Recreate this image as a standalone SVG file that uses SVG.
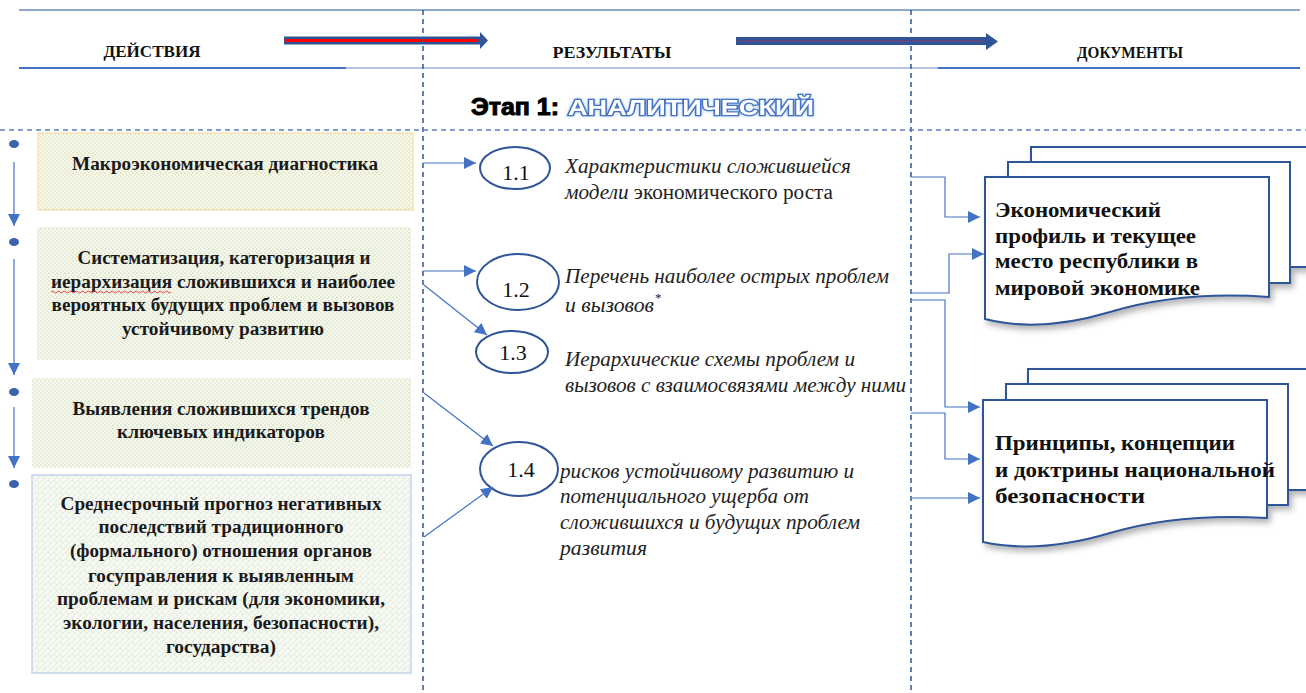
<svg xmlns="http://www.w3.org/2000/svg" width="1306" height="693" viewBox="0 0 1306 693">
<style>
.hdr{font-family:"Liberation Serif",serif;font-weight:bold;font-size:16px;fill:#111;text-anchor:middle}
.box{font-family:"Liberation Serif",serif;font-weight:bold;font-size:18px;fill:#1a1a1a;text-anchor:middle}
.it{font-family:"Liberation Serif",serif;font-style:italic;font-size:20px;fill:#222}
.up{font-style:normal}
.num{font-family:"Liberation Serif",serif;font-size:22px;fill:#111;text-anchor:middle}
.doc{font-family:"Liberation Serif",serif;font-weight:bold;font-size:22px;fill:#111}
.conn{fill:none;stroke:#4472c4;stroke-width:1.2}
.ell{fill:#fff;stroke:#2f5597;stroke-width:2}
.page{fill:#fff;stroke:#2f5597;stroke-width:2}
.vdash{stroke:#2f5597;stroke-width:1.5;stroke-dasharray:5 4;fill:none}
</style>
<defs>
<marker id="ahs" viewBox="0 0 10 10" refX="10" refY="5" markerWidth="12" markerHeight="12" markerUnits="userSpaceOnUse" orient="auto">
<path d="M0,0 L10,5 L0,10 Z" fill="#4472c4"/>
</marker>
<pattern id="dots" width="4" height="4" patternUnits="userSpaceOnUse">
<rect width="4" height="4" fill="#f7f9f1"/>
<rect width="2" height="2" fill="#e2ead2"/>
<rect x="2" y="2" width="2" height="2" fill="#e6edd8"/>
</pattern>
<pattern id="dotsY" width="4" height="4" patternUnits="userSpaceOnUse">
<rect width="4" height="4" fill="#fbf8ea"/>
<rect width="2" height="2" fill="#e4ead2"/>
<rect x="2" y="2" width="2" height="2" fill="#e8edd8"/>
</pattern>
<pattern id="weave" width="6" height="6" patternUnits="userSpaceOnUse">
<rect width="6" height="6" fill="#f6f8f2"/>
<path d="M0,6 L6,0 M0,0 L3,3" stroke="#e6ebe0" stroke-width="1"/>
</pattern>
<filter id="sh" x="-10%" y="-10%" width="130%" height="130%">
<feDropShadow dx="3" dy="4" stdDeviation="3" flood-color="#000" flood-opacity="0.3"/>
</filter>
<filter id="glow" x="-10%" y="-30%" width="120%" height="160%">
<feDropShadow dx="0" dy="0" stdDeviation="1.5" flood-color="#9dc3e6" flood-opacity="0.9"/>
</filter>
</defs>

<!-- header -->
<g id="header">
<line x1="19" y1="10" x2="1300" y2="10" stroke="#6a8cb8" stroke-width="1.5"/>
<line x1="19" y1="68" x2="346" y2="68" stroke="#4472c4" stroke-width="2"/>
<line x1="346" y1="68" x2="1300" y2="68" stroke="#6a8cb8" stroke-width="1.2"/>
<line x1="938" y1="68" x2="1300" y2="68" stroke="#4472c4" stroke-width="2"/>
<text class="hdr" x="152" y="57" textLength="97" lengthAdjust="spacingAndGlyphs">ДЕЙСТВИЯ</text>
<text class="hdr" x="612" y="58" textLength="119" lengthAdjust="spacingAndGlyphs">РЕЗУЛЬТАТЫ</text>
<text class="hdr" x="1130" y="58" textLength="106" lengthAdjust="spacingAndGlyphs">ДОКУМЕНТЫ</text>
<g id="arrow-a">
<path d="M284,36.5 H480 V32 L488,40.5 L480,49 V44.5 H284 Z" fill="#2f5597"/>
<line x1="286" y1="40.5" x2="478" y2="40.5" stroke="#ff0000" stroke-width="3"/>
</g>
<g id="arrow-b">
<path d="M736,37 H986 V33 L998,41.5 L986,50 V45 H736 Z" fill="#2f5597"/>
<line x1="738" y1="41" x2="984" y2="41" stroke="#8a3b6e" stroke-width="1.2"/>
</g>
</g>

<!-- grid -->
<g id="grid">
<line class="vdash" x1="423" y1="10" x2="423" y2="693"/>
<line class="vdash" x1="911" y1="10" x2="911" y2="693"/>
<line x1="0" y1="130" x2="1306" y2="130" stroke="#5b7fbf" stroke-width="1.5" stroke-dasharray="5 4"/>
</g>

<!-- stage title -->
<g id="stage">
<text x="471" y="115" font-family="'Liberation Sans',sans-serif" font-weight="bold" font-size="23" fill="#000" stroke="#000" stroke-width="1" textLength="88" lengthAdjust="spacingAndGlyphs">Этап 1:</text>
<text x="568" y="115" font-family="'Liberation Sans',sans-serif" font-weight="bold" font-size="22" fill="#fff" stroke="#4472c4" stroke-width="2.6" paint-order="stroke" textLength="246" lengthAdjust="spacingAndGlyphs" filter="url(#glow)">АНАЛИТИЧЕСКИЙ</text>
</g>

<!-- left timeline -->
<g id="timeline">
<ellipse cx="14" cy="144" rx="5" ry="4" fill="#3a62ad"/>
<ellipse cx="14" cy="242" rx="5" ry="4" fill="#3a62ad"/>
<ellipse cx="14" cy="392" rx="5" ry="4" fill="#3a62ad"/>
<ellipse cx="14" cy="484" rx="5" ry="4" fill="#3a62ad"/>
<line class="conn" x1="14" y1="162" x2="14" y2="226" marker-end="url(#ahs)"/>
<line class="conn" x1="14" y1="259" x2="14" y2="375" marker-end="url(#ahs)"/>
<line class="conn" x1="14" y1="407" x2="14" y2="468" marker-end="url(#ahs)"/>
</g>

<!-- action nodes -->
<g id="act1">
<rect x="38" y="133" width="375" height="77" fill="url(#dotsY)" stroke="#f3e2b3" stroke-width="1.5"/>
<text class="box" x="225" y="170" textLength="306" lengthAdjust="spacingAndGlyphs">Макроэкономическая диагностика</text>
</g>
<g id="act2">
<rect x="37" y="227" width="374" height="133" fill="url(#dots)"/>
<text class="box" x="224" y="264" textLength="293" lengthAdjust="spacingAndGlyphs">Систематизация, категоризация и</text>
<text class="box" x="223" y="288" textLength="344" lengthAdjust="spacingAndGlyphs">иерархизация сложившихся и наиболее</text>
<text class="box" x="223" y="311" textLength="343" lengthAdjust="spacingAndGlyphs">вероятных будущих проблем и вызовов</text>
<text class="box" x="223" y="335" textLength="202" lengthAdjust="spacingAndGlyphs">устойчивому развитию</text>
<path d="M51,292 q1.5,-2 3,0 t3,0 t3,0 t3,0 t3,0 t3,0 t3,0 t3,0 t3,0 t3,0 t3,0 t3,0 t3,0 t3,0 t3,0 t3,0 t3,0 t3,0 t3,0 t3,0 t3,0 t3,0 t3,0 t3,0 t3,0 t3,0 t3,0 t3,0 t3,0 t3,0 t3,0 t3,0 t3,0 t3,0 t3,0 t3,0 t3,0 t3,0 t3,0 t3,0" fill="none" stroke="#e03030" stroke-width="0.9"/>
</g>
<g id="act3">
<rect x="32" y="378" width="379" height="90" fill="url(#dots)"/>
<text class="box" x="221" y="415" textLength="297" lengthAdjust="spacingAndGlyphs">Выявления сложившихся трендов</text>
<text class="box" x="221" y="438" textLength="208" lengthAdjust="spacingAndGlyphs">ключевых индикаторов</text>
</g>
<g id="act4">
<rect x="32" y="475" width="379" height="198" fill="url(#weave)" stroke="#c5d3ea" stroke-width="1.5"/>
<text class="box" x="221" y="510" textLength="321" lengthAdjust="spacingAndGlyphs">Среднесрочный прогноз негативных</text>
<text class="box" x="221" y="533" textLength="245" lengthAdjust="spacingAndGlyphs">последствий традиционного</text>
<text class="box" x="221" y="557" textLength="302" lengthAdjust="spacingAndGlyphs">(формального) отношения органов</text>
<text class="box" x="221" y="582" textLength="266" lengthAdjust="spacingAndGlyphs">госуправления к выявленным</text>
<text class="box" x="221" y="605" textLength="328" lengthAdjust="spacingAndGlyphs">проблемам и рискам (для экономики,</text>
<text class="box" x="221" y="629" textLength="316" lengthAdjust="spacingAndGlyphs">экологии, населения, безопасности),</text>
<text class="box" x="221" y="653" textLength="110" lengthAdjust="spacingAndGlyphs">государства)</text>
</g>

<!-- result nodes -->
<g id="res1">
<ellipse class="ell" cx="515" cy="168" rx="35" ry="21"/>
<text class="num" x="516" y="180">1.1</text>
<text class="it" x="565" y="173" textLength="286" lengthAdjust="spacingAndGlyphs">Характеристики сложившейся</text>
<text class="it" x="565" y="199" textLength="268" lengthAdjust="spacingAndGlyphs">модели<tspan class="up"> экономического роста</tspan></text>
</g>
<g id="res2">
<ellipse class="ell" cx="518" cy="282" rx="41" ry="28"/>
<text class="num" x="516" y="297">1.2</text>
<text class="it" x="565" y="283" textLength="324" lengthAdjust="spacingAndGlyphs">Перечень наиболее острых проблем</text>
<text class="it" x="565" y="312" textLength="89" lengthAdjust="spacingAndGlyphs">и вызовов</text>
<text x="655" y="302" font-family="'Liberation Serif',serif" font-size="13" fill="#222">*</text>
</g>
<g id="res3">
<ellipse class="ell" cx="512" cy="352" rx="36" ry="21"/>
<text class="num" x="513" y="360">1.3</text>
<text class="it" x="565" y="366" textLength="290" lengthAdjust="spacingAndGlyphs">Иерархические схемы проблем и</text>
<text class="it" x="565" y="392" textLength="341" lengthAdjust="spacingAndGlyphs">вызовов с взаимосвязями между ними</text>
</g>
<g id="res4">
<ellipse class="ell" cx="519" cy="469" rx="39" ry="27"/>
<text class="num" x="521" y="477">1.4</text>
<text class="it" x="560" y="478" textLength="294" lengthAdjust="spacingAndGlyphs">рисков устойчивому развитию и</text>
<text class="it" x="560" y="503" textLength="249" lengthAdjust="spacingAndGlyphs">потенциального ущерба от</text>
<text class="it" x="560" y="529" textLength="300" lengthAdjust="spacingAndGlyphs">сложившихся и будущих проблем</text>
<text class="it" x="560" y="555" textLength="87" lengthAdjust="spacingAndGlyphs">развития</text>
</g>

<!-- document nodes -->
<g id="doc1" filter="url(#sh)">
<rect class="page" x="1031" y="147" width="290" height="120"/>
<rect class="page" x="1008" y="162" width="282" height="121"/>
<path class="page" d="M985,177 H1269 V297 C1200,292 1150,300 1110,312 C1060,327 1020,328 985,319 Z"/>
</g>
<g id="doc1-text">
<text class="doc" x="995" y="217" textLength="166" lengthAdjust="spacingAndGlyphs">Экономический</text>
<text class="doc" x="995" y="243" textLength="201" lengthAdjust="spacingAndGlyphs">профиль и текущее</text>
<text class="doc" x="995" y="268" textLength="203" lengthAdjust="spacingAndGlyphs">место республики в</text>
<text class="doc" x="995" y="295" textLength="205" lengthAdjust="spacingAndGlyphs">мировой экономике</text>
</g>
<g id="doc2" filter="url(#sh)">
<rect class="page" x="1028" y="369" width="292" height="121"/>
<rect class="page" x="1006" y="384" width="282" height="121"/>
<path class="page" d="M983,400 H1267 V518 C1200,514 1150,521 1110,533 C1060,548 1020,550 983,542 Z"/>
</g>
<g id="doc2-text">
<text class="doc" x="995" y="450" textLength="240" lengthAdjust="spacingAndGlyphs">Принципы, концепции</text>
<text class="doc" x="995" y="477" textLength="280" lengthAdjust="spacingAndGlyphs">и доктрины национальной</text>
<text class="doc" x="995" y="503" textLength="150" lengthAdjust="spacingAndGlyphs">безопасности</text>
</g>

<!-- connectors -->
<g id="connectors">
<line class="conn" x1="423" y1="163" x2="476" y2="163" marker-end="url(#ahs)"/>
<line class="conn" x1="423" y1="271" x2="476" y2="271" marker-end="url(#ahs)"/>
<line class="conn" x1="424" y1="285" x2="487" y2="335" marker-end="url(#ahs)"/>
<line class="conn" x1="424" y1="393" x2="493" y2="446" marker-end="url(#ahs)"/>
<line class="conn" x1="424" y1="537" x2="493" y2="487" marker-end="url(#ahs)"/>
<polyline class="conn" points="911,177 945,177 945,217 980,217" marker-end="url(#ahs)"/>
<polyline class="conn" points="911,293 949,293 949,254 984,254" marker-end="url(#ahs)"/>
<polyline class="conn" points="911,300 945,300 945,407 980,407" marker-end="url(#ahs)"/>
<polyline class="conn" points="911,413 945,413 945,459 980,459" marker-end="url(#ahs)"/>
<line class="conn" x1="911" y1="498" x2="980" y2="498" marker-end="url(#ahs)"/>
</g>
</svg>
